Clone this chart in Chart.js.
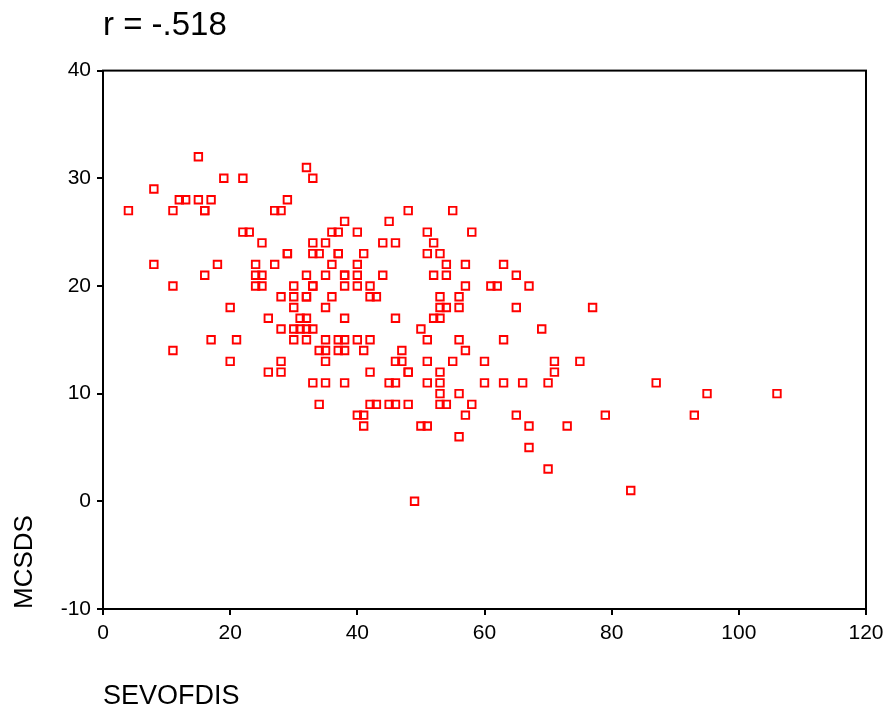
<!DOCTYPE html>
<html>
<head>
<meta charset="utf-8">
<script src="https://cdn.jsdelivr.net/npm/chart.js@4/dist/chart.umd.min.js"></script>
<style>
  html, body { margin: 0; padding: 0; background: #fff; }
</style>
</head>
<body>
<canvas id="myChart" width="885" height="715"></canvas>
<script>
// values
const sevofdis = [
  4, 8, 8, 11, 11, 11, 12, 13, 15, 19, 22, 15, 17, 29, 16, 16, 27, 28, 22, 23,
  25, 29, 29, 18, 24, 27, 16, 24, 25, 24, 25, 30, 28, 30, 20, 30, 26, 28, 30, 31,
  31, 17, 21, 30, 20, 28, 26, 28,
  32, 33, 38, 45, 48, 55, 36, 37, 40, 51, 58, 33, 35, 44, 46, 52, 33, 34, 37, 37,
  41, 51, 53, 36, 40, 54, 57, 32, 35, 38, 38, 40, 44, 52, 54,
  33, 33, 38, 40, 42, 57, 32, 32, 36, 42, 43, 53, 56, 35, 53, 54, 56, 32, 38, 46,
  52, 53, 32, 33, 50, 32, 35, 37, 38, 40, 42, 51, 56, 34, 35, 37, 38, 41, 47, 57,
  35, 46, 47, 51, 55, 42, 48, 48, 53, 33, 35, 38, 45, 46, 51, 53, 53, 56, 34, 42,
  43, 45, 46, 48, 53, 54, 58,
  40, 41, 41, 50, 51, 56, 57, 49,
  63, 65, 61, 62, 67, 65, 77, 69,
  63, 60, 71, 75, 71, 60, 63, 66, 70, 65, 79, 67, 73, 67, 70, 83,
  87, 95, 106, 93
];
const mcsds = [
  27, 29, 22, 27, 20, 14, 28, 28, 32, 30, 30, 28, 28, 28, 27, 27, 27, 27, 25, 25,
  24, 23, 23, 22, 22, 22, 21, 21, 21, 20, 20, 20, 19, 19, 18, 18, 17, 16, 16, 16,
  17, 15, 15, 15, 13, 13, 12, 12,
  31, 30, 26, 26, 27, 27, 25, 25, 25, 25, 25, 24, 24, 24, 24, 24, 23, 23, 23, 23,
  23, 23, 23, 22, 22, 22, 22, 21, 21, 21, 21, 21, 21, 21, 21,
  20, 20, 20, 20, 20, 20, 19, 19, 19, 19, 19, 19, 19, 18, 18, 18, 18, 17, 17, 17,
  17, 17, 16, 16, 16, 15, 15, 15, 15, 15, 15, 15, 15, 14, 14, 14, 14, 14, 14, 14,
  13, 13, 13, 13, 13, 12, 12, 12, 12, 11, 11, 11, 11, 11, 11, 11, 10, 10, 9, 9,
  9, 9, 9, 9, 9, 9, 9,
  8, 8, 7, 7, 7, 6, 8, 0,
  22, 21, 20, 20, 20, 18, 18, 16,
  15, 13, 13, 13, 12, 11, 11, 11, 11, 8, 8, 7, 7, 5, 3, 1,
  11, 10, 10, 8
];
const xTicks = [0, 20, 40, 60, 80, 100, 120];
const yTicks = [-10, 0, 10, 20, 30, 40];

const FONT = '"Liberation Sans", Arial, sans-serif';

const frame = {
  id: 'frame',
  afterDatasetsDraw(chart) {
    const { ctx, chartArea: a } = chart;
    ctx.save();
    ctx.strokeStyle = '#000';
    ctx.lineWidth = 2;
    ctx.strokeRect(a.left, a.top, a.right - a.left, a.bottom - a.top);
    ctx.restore();
  }
};

const ctx = document.getElementById('myChart').getContext('2d');
new Chart(ctx, {
  type: 'scatter',
  data: {
    datasets: [{
      data: sevofdis.map((x, i) => ({ x: x, y: mcsds[i] })),
      pointStyle: 'rect',
      radius: 5.3,
      borderWidth: 1.9,
      borderColor: '#ff0000',
      backgroundColor: 'rgba(0,0,0,0)'
    }]
  },
  options: {
    responsive: false,
    animation: false,
    layout: { padding: { left: 0, right: 19, top: 0, bottom: 0 } },
    plugins: {
      legend: { display: false },
      tooltip: { enabled: false },
      title: {
        display: true,
        text: 'r = -.518',
        align: 'start',
        fullSize: false,
        color: '#000',
        font: { family: FONT, size: 33, weight: 'normal' },
        padding: { top: 6, bottom: 25 }
      }
    },
    scales: {
      x: {
        type: 'linear',
        min: 0,
        max: 120,
        afterBuildTicks: s => { s.ticks = xTicks.map(v => ({ value: v })); },
        afterFit: s => { s.height = 106; s.paddingRight = 0; s.paddingLeft = 0; },
        ticks: { color: '#000', font: { family: FONT, size: 21 }, padding: 6, maxRotation: 0 },
        grid: { drawOnChartArea: false, tickLength: 6, color: '#000', lineWidth: 2 },
        border: { color: '#000', width: 2 },
        title: {
          display: true,
          text: 'SEVOFDIS',
          align: 'start',
          color: '#000',
          font: { family: FONT, size: 27 },
          padding: { top: 0, bottom: 2 }
        }
      },
      y: {
        type: 'linear',
        min: -10,
        max: 40,
        afterBuildTicks: s => { s.ticks = yTicks.map(v => ({ value: v })); },
        afterFit: s => { s.width = 103; },
        ticks: { color: '#000', font: { family: FONT, size: 21 }, padding: 6 },
        grid: { drawOnChartArea: false, tickLength: 6, color: '#000', lineWidth: 2 },
        border: { color: '#000', width: 2 },
        title: {
          display: true,
          text: 'MCSDS',
          align: 'start',
          color: '#000',
          font: { family: FONT, size: 26 },
          padding: { top: 9, bottom: 0 }
        }
      }
    }
  },
  plugins: [frame]
});
</script>
</body>
</html>
